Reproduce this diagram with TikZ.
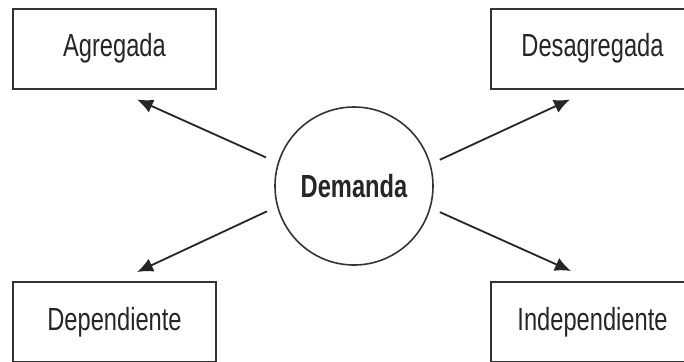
\documentclass[tikz,border=0pt]{standalone}
\usepackage{fontspec}
\setmainfont[FakeStretch=0.74]{Liberation Sans}
\usetikzlibrary{positioning,arrows.meta,calc}
\tikzstyle{tbox}=[rectangle, draw=black!80, line width=1pt, minimum width=101.5pt,
 minimum height=40pt, inner sep=2pt, text=black!85, font=\fontsize{16}{18}\selectfont]
\tikzstyle{dcirc}=[circle, draw=black!80, line width=0.8pt, minimum size=79pt,
 inner sep=0pt, text=black!85, font=\fontsize{16}{18}\selectfont\bfseries]
\tikzstyle{pline}=[-{Latex[length=8pt,width=7pt]}, line width=0.9pt, black!85]

\begin{document}
\begin{tikzpicture}[x=0.5pt, y=-0.5pt]
    \useasboundingbox (0,0) rectangle (684,361);
    \clip (0,0) rectangle (684,361);
    \fill[white] (0,0) rectangle (684,361);

    \node (dem) [dcirc] at (354,186) {Demanda};

% boxes
    \node (agr) [tbox] at (114.5,48.5) {Agregada};
    \node (desagr) [tbox] at (592.5,48.5) {Desagregada};
    \node (dep) [tbox] at (114.5,322) {Dependiente};
    \node (indep) [tbox] at (592.5,322) {Independiente};

% lines
   \draw[pline, shorten <=6.4pt] (dem.163) -- ($(agr.south)+(22.5,10)$);
   \draw[pline, shorten <=5pt] (dem.16) -- ($(desagr.south)+(-22.5,10)$);
   \draw[pline, shorten <=5.5pt] (dem.195) -- ($(dep.north)+(22.5,-9)$);
   \draw[pline, shorten <=5pt] (dem.344) -- ($(indep.north)+(-21.5,-10)$);
\end{tikzpicture}
\end{document}
